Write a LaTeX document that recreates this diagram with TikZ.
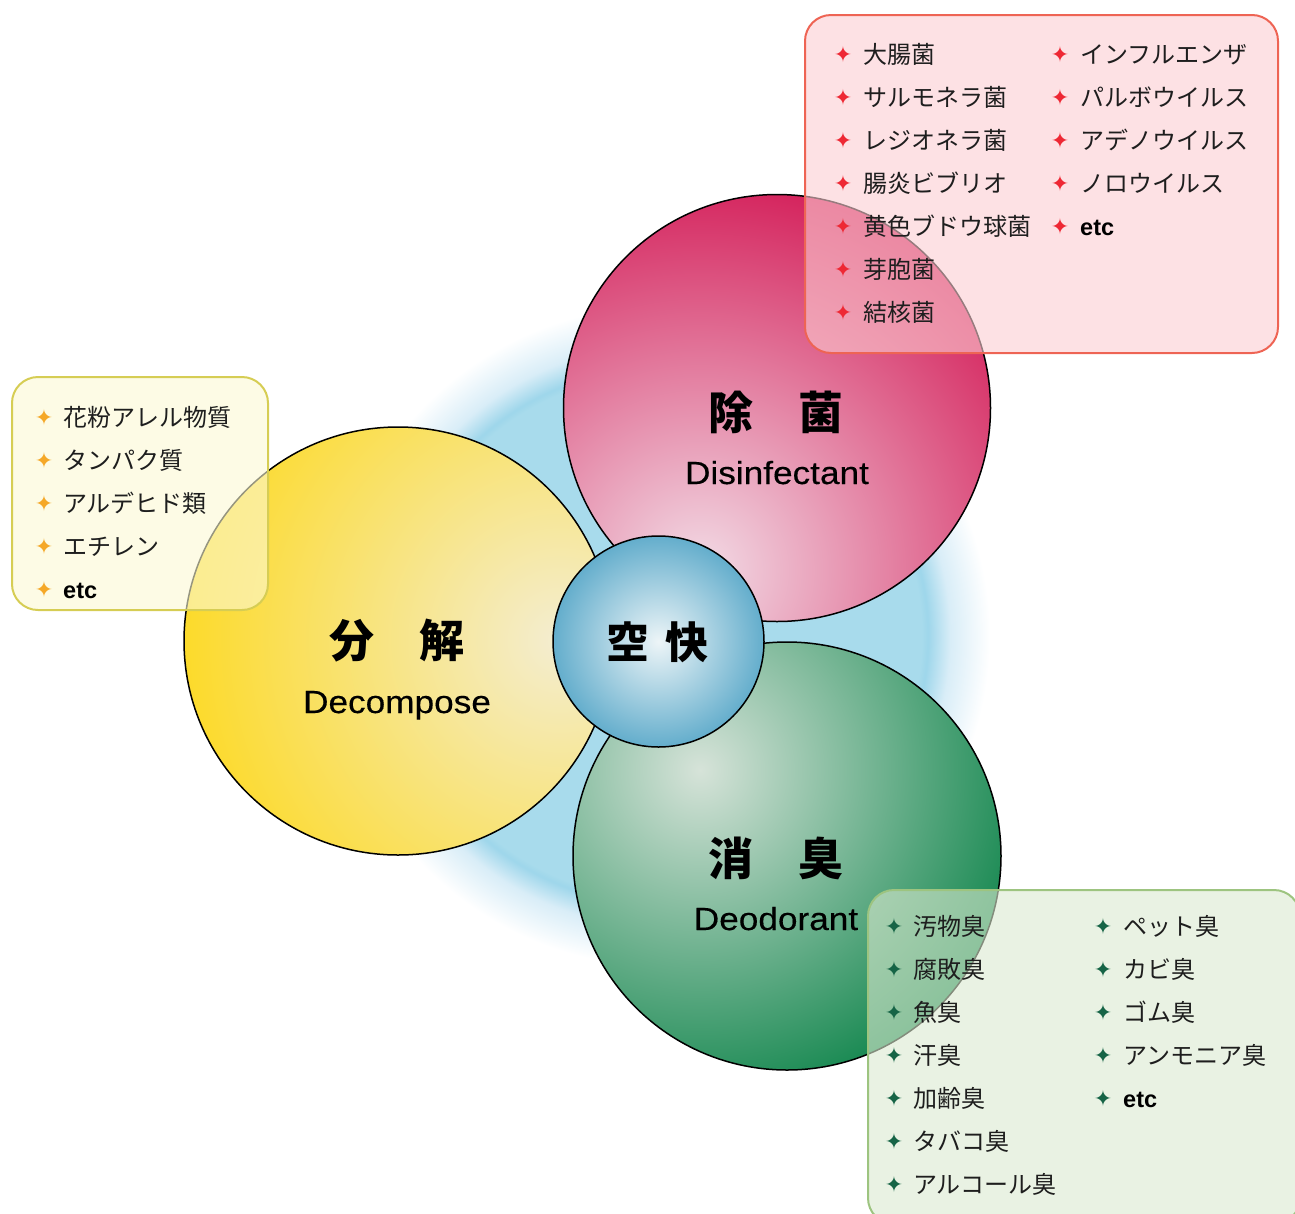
\documentclass[tikz,border=0pt]{standalone}
\usepackage{fontspec}
\setmainfont{Liberation Sans}
\newfontfamily\jp{Noto Sans CJK JP}
\newfontfamily\sym{DejaVu Sans}
\newfontfamily\lat[FakeStretch=1.1,FakeBold=0.3]{Liberation Sans}

\definecolor{redbul}{RGB}{238,40,52}
\definecolor{yelbul}{RGB}{245,168,40}
\definecolor{grnbul}{RGB}{22,100,70}
\definecolor{redbox}{RGB}{252,205,210}
\definecolor{redline}{RGB}{238,100,84}
\definecolor{yelbox}{RGB}{251,249,212}
\definecolor{yelline}{RGB}{214,205,84}
\definecolor{grnbox}{RGB}{219,234,208}
\definecolor{grnline}{RGB}{157,196,128}
\definecolor{txt}{RGB}{30,30,30}

\pgfdeclareradialshading{glowsh}{\pgfpointorigin}{rgb(0bp)=(0.66,0.86,0.925); rgb(19.8bp)=(0.66,0.86,0.925); rgb(20.3bp)=(0.62,0.84,0.92); rgb(22bp)=(0.85,0.93,0.97); rgb(25bp)=(1,1,1); rgb(50bp)=(1,1,1)}
\pgfdeclareradialshading{redsh}{\pgfpointorigin}{rgb(0bp)=(0.95,0.86,0.90); rgb(25bp)=(0.83,0.12,0.35); rgb(50bp)=(0.83,0.12,0.35)}
\pgfdeclareradialshading{yelsh}{\pgfpointorigin}{rgb(0bp)=(0.955,0.93,0.82); rgb(25bp)=(0.99,0.855,0.16); rgb(50bp)=(0.99,0.855,0.16)}
\pgfdeclareradialshading{grnsh}{\pgfpointorigin}{rgb(0bp)=(0.84,0.89,0.85); rgb(25bp)=(0.08,0.53,0.31); rgb(50bp)=(0.08,0.53,0.31)}
\pgfdeclareradialshading{blush}{\pgfpointorigin}{rgb(0bp)=(0.93,0.96,0.97); rgb(25bp)=(0.39,0.68,0.80); rgb(50bp)=(0.39,0.68,0.80)}

\tikzset{
  circ/.style={draw=black, line width=1.5pt},
  box/.style={rounded corners=26pt, line width=2pt, fill opacity=0.6},
  ttl/.style={font=\jp\bfseries\fontsize{45}{45}\selectfont, inner sep=0pt, text=black},
  sub/.style={font=\lat\fontsize{32}{32}\selectfont, inner sep=0pt, anchor=base, text=black},
  li/.style={font=\jp\fontsize{24}{24}\selectfont, inner sep=0pt, anchor=base west, text=txt},
  etcs/.style={font=\bfseries\fontsize{23.5}{23.5}\selectfont, inner sep=0pt, anchor=base west, text=black},
  bul/.style={font=\sym\fontsize{22}{22}\selectfont, inner sep=0pt, anchor=center},
}

\begin{document}
\begin{tikzpicture}[x=1pt,y=-1pt]
\useasboundingbox (0,0) rectangle (1295,1213);
\clip (0,0) rectangle (1295,1213);

% background glow
\coordinate (g) at (660,636);
\shade[shading=glowsh] (g) circle[radius=330pt];

% circles
\coordinate (cy) at (398,641);
\coordinate (cr) at (777,408);
\coordinate (cg) at (787,856);
\coordinate (cc) at (658.5,641.5);

\begin{scope}
  \clip (cy) circle[radius=214pt];
  \shade[shading=yelsh] (560,640) circle[radius=380pt];
\end{scope}
\draw[circ] (cy) circle[radius=214pt];

\begin{scope}
  \clip (cr) circle[radius=213.5pt];
  \shade[shading=redsh] (700,570) circle[radius=400pt];
\end{scope}
\draw[circ] (cr) circle[radius=213.5pt];

\begin{scope}
  \clip (cg) circle[radius=214pt];
  \shade[shading=grnsh] (700,770) circle[radius=340pt];
\end{scope}
\draw[circ] (cg) circle[radius=214pt];

\shadedraw[shading=blush, circ] (cc) circle[radius=105.5pt];

% titles
\node[ttl] (tr) at (776,412) {除　菌};
\node[sub] (sr) at (777,484) {Disinfectant};
\node[ttl] (ty) at (397,641) {分　解};
\node[sub] (sy) at (397,713) {Decompose};
\node[ttl] (tg) at (776,858) {消　臭};
\node[sub] (sg) at (776,930) {Deodorant};
\node[ttl, font=\jp\bfseries\fontsize{43}{43}\selectfont] (tc) at (657.5,642) {空\hspace{16pt}快};

% boxes
\draw[box, draw=redline, fill=redbox] (805,15) rectangle (1278,353);
\draw[box, draw=yelline, fill=yelbox] (12,377) rectangle (268,610);
\draw[box, draw=grnline, fill=grnbox] (868,890) rectangle (1300,1224);

% red list
\foreach \t [count=\i] in {大腸菌,サルモネラ菌,レジオネラ菌,腸炎ビブリオ,黄色ブドウ球菌,芽胞菌,結核菌}{
  \node[bul, text=redbul] (rb\i) at (843,{54+43*(\i-1)}) {✦};
  \node[li] (rt\i) at (863,{63+43*(\i-1)}) {\t};
}
\foreach \t [count=\i] in {インフルエンザ,パルボウイルス,アデノウイルス,ノロウイルス}{
  \node[bul, text=redbul] (rc\i) at (1060,{54+43*(\i-1)}) {✦};
  \node[li] (ru\i) at (1080,{63+43*(\i-1)}) {\t};
}
\node[bul, text=redbul] (rc5) at (1060,226) {✦};
\node[etcs] (ru5) at (1080,235) {etc};

% yellow list
\foreach \t [count=\i] in {花粉アレル物質,タンパク質,アルデヒド類,エチレン}{
  \node[bul, text=yelbul] (yb\i) at (44,{417+43*(\i-1)}) {✦};
  \node[li] (yt\i) at (63,{426+43*(\i-1)}) {\t};
}
\node[bul, text=yelbul] (yb5) at (44,589) {✦};
\node[etcs] (yt5) at (63,598) {etc};

% green list
\foreach \t [count=\i] in {汚物臭,腐敗臭,魚臭,汗臭,加齢臭,タバコ臭,アルコール臭}{
  \node[bul, text=grnbul] (gb\i) at (894,{926+43*(\i-1)}) {✦};
  \node[li] (gt\i) at (913,{935+43*(\i-1)}) {\t};
}
\foreach \t [count=\i] in {ペット臭,カビ臭,ゴム臭,アンモニア臭}{
  \node[bul, text=grnbul] (gc\i) at (1103,{926+43*(\i-1)}) {✦};
  \node[li] (gu\i) at (1123,{935+43*(\i-1)}) {\t};
}
\node[bul, text=grnbul] (gc5) at (1103,1098) {✦};
\node[etcs] (gu5) at (1123,1107) {etc};
\end{tikzpicture}
\end{document}
